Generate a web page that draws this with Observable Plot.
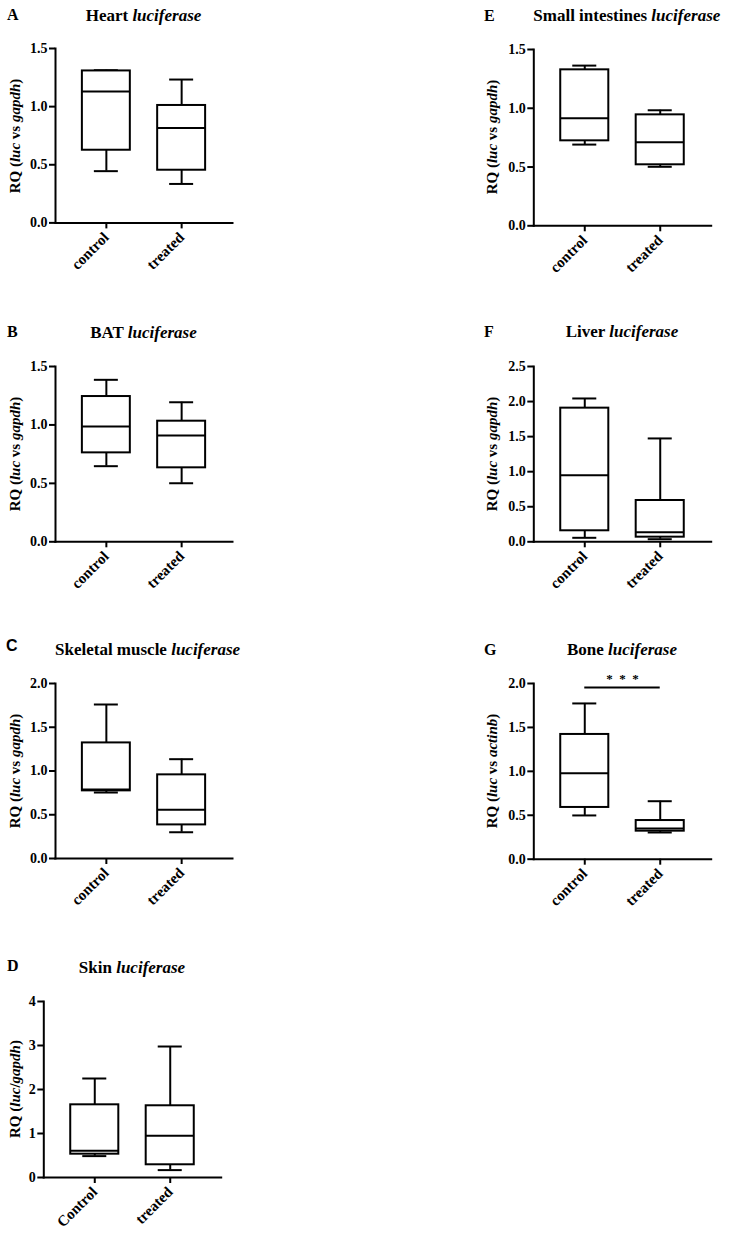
<!DOCTYPE html>
<html>
<head>
<meta charset="utf-8">
<script src="https://cdn.jsdelivr.net/npm/d3@7"></script>
<script src="https://cdn.jsdelivr.net/npm/@observablehq/plot@0.6"></script>
<style>
  html, body { margin: 0; padding: 0; background: #fff; }
  body { position: relative; width: 731px; height: 1238px; overflow: hidden; font-family: "Liberation Serif", "Times New Roman", serif; color: #000; }
  .abs { position: absolute; white-space: nowrap; line-height: 1; }
  .title { font-weight: bold; font-size: 17px; text-align: center; }
  .letter { font-weight: bold; font-size: 16px; }
  .ylab { font-weight: bold; font-size: 15px; }
  svg { position: absolute; overflow: visible; }
</style>
</head>
<body>
<script>
// ---------- data (min, Q1, median, Q3, max) ----------
const groups = ["control", "treated"];
const groupsSkin = ["Control", "treated"];

const heartControl = [0.445, 0.625, 1.13, 1.307, 1.313];
const heartTreated = [0.335, 0.453, 0.817, 1.01, 1.233];

const batControl = [0.647, 0.761, 0.986, 1.243, 1.386];
const batTreated = [0.501, 0.633, 0.909, 1.032, 1.194];

const muscleControl = [0.754, 0.773, 0.789, 1.321, 1.76];
const muscleTreated = [0.30, 0.384, 0.556, 0.956, 1.135];

const skinControl = [0.486, 0.53, 0.607, 1.652, 2.25];
const skinTreated = [0.168, 0.289, 0.947, 1.63, 2.977];

const intestineControl = [0.691, 0.723, 0.915, 1.327, 1.363];
const intestineTreated = [0.502, 0.519, 0.711, 0.944, 0.983];

const liverControl = [0.057, 0.157, 0.95, 1.906, 2.044];
const liverTreated = [0.037, 0.066, 0.137, 0.589, 1.474];

const boneControl = [0.498, 0.589, 0.979, 1.42, 1.773];
const boneTreated = [0.304, 0.319, 0.35, 0.44, 0.66];

// tick values
const ticks15 = [0, 0.5, 1.0, 1.5];
const ticks20 = [0, 0.5, 1.0, 1.5, 2.0];
const ticks25 = [0, 0.5, 1.0, 1.5, 2.0, 2.5];
const ticks4 = [0, 1, 2, 3, 4];

// significance annotation (Bone)
const boneSig = [{from: "control", to: "treated", y: 1.955, text: "*\u2002*\u2002*"}];

// ---------- panels ----------
const panels = [
  {letter: "A", tissue: "Heart", ylab: "RQ (<i>luc</i> vs <i>gapdh</i>)", labels: groups, control: heartControl, treated: heartTreated, ticks: ticks15, fmt: ".1f"},
  {letter: "B", tissue: "BAT", ylab: "RQ (<i>luc</i> vs <i>gapdh</i>)", labels: groups, control: batControl, treated: batTreated, ticks: ticks15, fmt: ".1f"},
  {letter: "C", tissue: "Skeletal muscle", ylab: "RQ (<i>luc</i> vs <i>gapdh</i>)", labels: groups, control: muscleControl, treated: muscleTreated, ticks: ticks20, fmt: ".1f", sansLetter: true},
  {letter: "D", tissue: "Skin", ylab: "RQ (<i>luc</i>/<i>gapdh</i>)", labels: groupsSkin, control: skinControl, treated: skinTreated, ticks: ticks4, fmt: "d"},
  {letter: "E", tissue: "Small intestines", ylab: "RQ (<i>luc</i> vs <i>gapdh</i>)", labels: groups, control: intestineControl, treated: intestineTreated, ticks: ticks15, fmt: ".1f"},
  {letter: "F", tissue: "Liver", ylab: "RQ (<i>luc</i> vs <i>gapdh</i>)", labels: groups, control: liverControl, treated: liverTreated, ticks: ticks25, fmt: ".1f"},
  {letter: "G", tissue: "Bone", ylab: "RQ (<i>luc</i> vs <i>actinb</i>)", labels: groups, control: boneControl, treated: boneTreated, ticks: ticks20, fmt: ".1f", sig: boneSig}
];

// ---------- layout (pixels) ----------
const layout = [
  {svgLeft: 0, svgWidth: 260, axisLeft: 55, axisRight: 232, yTop: 48.3, yBot: 222.7, letterX: 7, letterBase: 20.7, titleBase: 21.3, ylabX: 15.3},
  {svgLeft: 0, svgWidth: 260, axisLeft: 55, axisRight: 232, yTop: 366, yBot: 541.3, letterX: 7, letterBase: 337.7, titleBase: 338, ylabX: 15.3},
  {svgLeft: 0, svgWidth: 260, axisLeft: 55, axisRight: 232, yTop: 683.3, yBot: 858.3, letterX: 6, letterBase: 651.7, titleBase: 655, ylabX: 15.3},
  {svgLeft: 0, svgWidth: 260, axisLeft: 43.3, axisRight: 220.7, yTop: 1000.7, yBot: 1176.7, letterX: 7, letterBase: 971, titleBase: 973, ylabX: 15.3},
  {svgLeft: 440, svgWidth: 291, axisLeft: 533.3, axisRight: 710.7, yTop: 49, yBot: 225.3, letterX: 484, letterBase: 21, titleBase: 21, ylabX: 491.7},
  {svgLeft: 440, svgWidth: 291, axisLeft: 533.3, axisRight: 710.7, yTop: 366, yBot: 541.3, letterX: 484, letterBase: 337.3, titleBase: 337.7, ylabX: 491.7},
  {svgLeft: 440, svgWidth: 291, axisLeft: 533.3, axisRight: 710.7, yTop: 683.3, yBot: 859, letterX: 484, letterBase: 655, titleBase: 655.7, ylabX: 491.7}
];

const PAD_INNER = 0.363, PAD_OUTER = 0.357;
const MT = 26, MB = 70;

function addDiv(cls, html, css) {
  const d = document.createElement("div");
  d.className = "abs " + cls;
  d.innerHTML = html;
  Object.assign(d.style, css);
  document.body.appendChild(d);
  return d;
}

function drawPanel(p, L) {
  const W = L.svgWidth;
  const ml = L.axisLeft - L.svgLeft;
  const mr = L.svgLeft + W - L.axisRight;
  const H = (L.yBot - L.yTop) + MT + MB;
  const band = d3.scaleBand().domain(p.labels).range([ml, W - mr]).paddingInner(PAD_INNER).paddingOuter(PAD_OUTER);
  const bw = band.bandwidth(), step = band.step();
  const rows = p.labels.map((g, i) => {
    const s = i ? p.treated : p.control;
    return {group: g, min: s[0], q1: s[1], med: s[2], q3: s[3], max: s[4]};
  });
  const line = {stroke: "#000", strokeWidth: 2};
  const marks = [
    Plot.ruleX(rows, {x: "group", y1: "min", y2: "q1", ...line}),
    Plot.ruleX(rows, {x: "group", y1: "q3", y2: "max", ...line}),
    Plot.tickY(rows, {x: "group", y: "min", insetLeft: bw / 4, insetRight: bw / 4, ...line}),
    Plot.tickY(rows, {x: "group", y: "max", insetLeft: bw / 4, insetRight: bw / 4, ...line}),
    Plot.barY(rows, {x: "group", y1: "q1", y2: "q3", fill: "#fff", ...line}),
    Plot.tickY(rows, {x: "group", y: "med", ...line}),
    Plot.axisY({ticks: p.ticks, tickFormat: d3.format(p.fmt), tickSize: 6, tickPadding: 2, strokeWidth: 2, label: null, fontSize: 14}),
    Plot.axisX({tickRotate: -45, tickSize: 6, tickPadding: 6, strokeWidth: 2, label: null, fontSize: 15}),
    Plot.frame({anchor: "left", ...line}),
    Plot.frame({anchor: "bottom", ...line})
  ];
  if (p.sig) {
    marks.push(Plot.ruleY(p.sig, {x1: "from", x2: "to", y: "y", insetLeft: bw / 2, insetRight: bw / 2, ...line}));
    marks.push(Plot.text(p.sig, {x: "from", y: "y", text: "text", dx: step / 2, dy: -4, lineAnchor: "bottom", fontSize: 13, fill: "#000"}));
  }
  const svg = Plot.plot({
    width: W,
    height: H,
    marginLeft: ml,
    marginRight: mr,
    marginTop: MT,
    marginBottom: MB,
    x: {type: "band", domain: p.labels, paddingInner: PAD_INNER, paddingOuter: PAD_OUTER, round: false},
    y: {domain: [0, p.ticks[p.ticks.length - 1]]},
    style: {fontFamily: "'Liberation Serif', serif", fontSize: "14px", fontWeight: "bold", color: "#000", background: "transparent", overflow: "visible"},
    marks
  });
  svg.style.left = L.svgLeft + "px";
  svg.style.top = (L.yTop - MT) + "px";
  document.body.appendChild(svg);

  // panel letter
  const lfs = 16;
  addDiv("letter", p.letter, {
    left: L.letterX + "px",
    top: (L.letterBase - (p.sansLetter ? 0.8465 : 0.8375) * lfs) + "px",
    fontFamily: p.sansLetter ? "'Liberation Sans', Arial, sans-serif" : "inherit"
  });
  // title
  const tfs = 17;
  addDiv("title", `${p.tissue} <i>luciferase</i>`, {
    left: L.axisLeft + "px",
    width: (L.axisRight - L.axisLeft) + "px",
    top: (L.titleBase - 0.8375 * tfs) + "px"
  });
  // y label
  addDiv("ylab", p.ylab, {
    left: L.ylabX + "px",
    top: ((L.yTop + L.yBot) / 2) + "px",
    transform: "translate(-50%, -50%) rotate(-90deg)"
  });
}

panels.forEach((p, i) => drawPanel(p, layout[i]));
</script>
</body>
</html>
